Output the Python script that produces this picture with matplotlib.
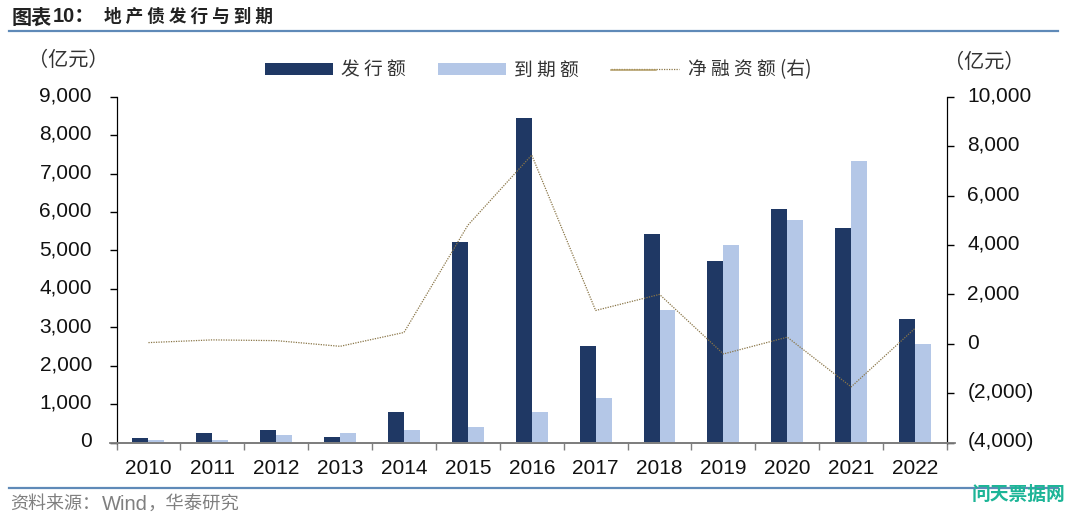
from matplotlib import pyplot as plt
from matplotlib.lines import Line2D
from matplotlib.ticker import FuncFormatter
from matplotlib.transforms import ScaledTranslation

anios = ["2010", "2011", "2012", "2013", "2014", "2015", "2016", "2017", "2018", "2019", "2020", "2021", "2022"]
emision = [110, 240, 320, 160, 790, 5220, 8440, 2510, 5440, 4730, 6070, 5590, 3210]
vencimiento = [70, 80, 190, 260, 330, 420, 800, 1160, 3450, 5140, 5800, 7330, 2580]
neto = [50, 160, 130, -100, 460, 4800, 7640, 1350, 2000, -410, 270, -1740, 630]

CJK = ["Noto Sans CJK SC", "DejaVu Sans"]
ARIAL = "Liberation Sans"
W, H = 1080, 520


def fx(px):
    return px / W


def fy(py):
    return 1 - py / H


fig = plt.figure(figsize=(10.8, 5.2), dpi=100)
ax = fig.add_axes([fx(116.5), fy(442.7), fx(947 - 116.5), (442.7 - 96.7) / H])
ax2 = ax.twinx()

pos = [i + 0.5 for i in range(len(anios))]
ancho = 0.25
b1 = ax.bar([p - ancho / 2 for p in pos], emision, ancho, color="#1f3864", label="发行额")
b2 = ax.bar([p + ancho / 2 for p in pos], vencimiento, ancho, color="#b4c7e7", label="到期额")
l1, = ax2.plot(pos, neto, color="#8a7648", lw=0.9, ls=(0, (1, 1)), label="净融资额(右)")

ax.set_xlim(0, 13)
ax.set_ylim(0, 9000)
ax2.set_ylim(-4000, 10000)
ax.set_yticks(range(0, 9001, 1000))
ax2.set_yticks(range(-4000, 10001, 2000))
ax.yaxis.set_major_formatter(FuncFormatter(lambda v, p: f"{int(v):,}"))
ax2.yaxis.set_major_formatter(FuncFormatter(lambda v, p: f"({int(-v):,})" if v < 0 else f"{int(v):,}"))

ax.set_xticks(range(14))
ax.set_xticklabels([])
ax.set_xticks(pos, minor=True)
ax.set_xticklabels(anios, minor=True, fontfamily=ARIAL, fontsize=15, color="#111111")
ax.tick_params(axis="x", which="major", length=4.7, width=1, color="#7f7f7f", direction="out")
ax.tick_params(axis="x", which="minor", length=0, pad=12)
ax.tick_params(axis="y", length=4.7, width=1, color="black", pad=13)
ax2.tick_params(axis="y", length=4.7, width=1, color="black", pad=10)
# las etiquetas de y van un poco mas arriba que la marca
subir = ScaledTranslation(0, 2 / 72, fig.dpi_scale_trans)
for lab in ax.get_yticklabels() + ax2.get_yticklabels():
    lab.set_fontfamily(ARIAL)
    lab.set_fontsize(15)
    lab.set_color("#111111")
    lab.set_transform(lab.get_transform() + subir)

for a in (ax, ax2):
    a.spines["top"].set_visible(False)
    a.spines["bottom"].set_color("#7f7f7f")
    a.spines["left"].set_color("black")
    a.spines["right"].set_color("black")
    a.spines["bottom"].set_linewidth(1.2)

# linea gris del eje x, sale un poco por los dos lados
fig.add_artist(Line2D([fx(110), fx(955)], [fy(442.7), fy(442.7)], color="#7f7f7f", lw=1.3))

# lineas azules de titulo y pie
fig.add_artist(Line2D([fx(9), fx(1058)], [fy(30.5), fy(30.5)], color="#5f8ab8", lw=1.6))
fig.add_artist(Line2D([fx(9), fx(1058)], [fy(488), fy(488)], color="#5f8ab8", lw=1.6))

fig.text(fx(12), fy(17), "图表", family=CJK, fontsize=14.5, fontweight="bold", color="#222222", va="center")
fig.text(fx(53), fy(17), "10：", family=[ARIAL] + CJK, fontsize=14.5, fontweight="bold", color="#222222", va="center")
fig.text(fx(104), fy(17), "地 产 债 发 行 与 到 期", family=CJK, fontsize=12.7, fontweight="bold", color="#222222", va="center")

fig.text(fx(68), fy(61), "（亿元）", family=CJK, fontsize=14.5, color="#333333", ha="center", va="center")
fig.text(fx(984), fy(63), "（亿元）", family=CJK, fontsize=14.5, color="#333333", ha="center", va="center")

fig.text(fx(10), fy(504), "资料来源：", family=CJK, fontsize=13, color="#7f7f7f", va="center")
fig.text(fx(102), fy(504), "Wind", family=ARIAL, fontsize=14.5, color="#7f7f7f", va="center")
fig.text(fx(148), fy(504), "，华泰研究", family=CJK, fontsize=13.2, color="#7f7f7f", va="center")

fig.text(fx(1018), fy(494), "问天票据网", family=CJK, fontsize=13.5, fontweight="bold", color="#1db597", ha="center", va="center")

leg = ax.legend([b1, b2, l1], ["发 行 额", "到 期 额", "净 融 资 额 (右)"],
                loc="center", bbox_to_anchor=(fx(538), fy(70)), bbox_transform=fig.transFigure,
                ncol=3, frameon=False, handlelength=3.63, handleheight=0.55, columnspacing=1.7,
                handletextpad=0.45, prop={"family": CJK, "size": 13.5})
for t in leg.get_texts():
    t.set_color("#333333")
# tramo solido de la muestra de linea en la leyenda
fig.add_artist(Line2D([fx(610.5), fx(655.5)], [fy(69.5), fy(69.5)], color="#b09a62", lw=1.1))
# la leyenda tiene que quedar por encima de las barras
ax.set_zorder(ax2.get_zorder() - 1)
ax.patch.set_visible(False)

plt.savefig("out.png", dpi=100)
